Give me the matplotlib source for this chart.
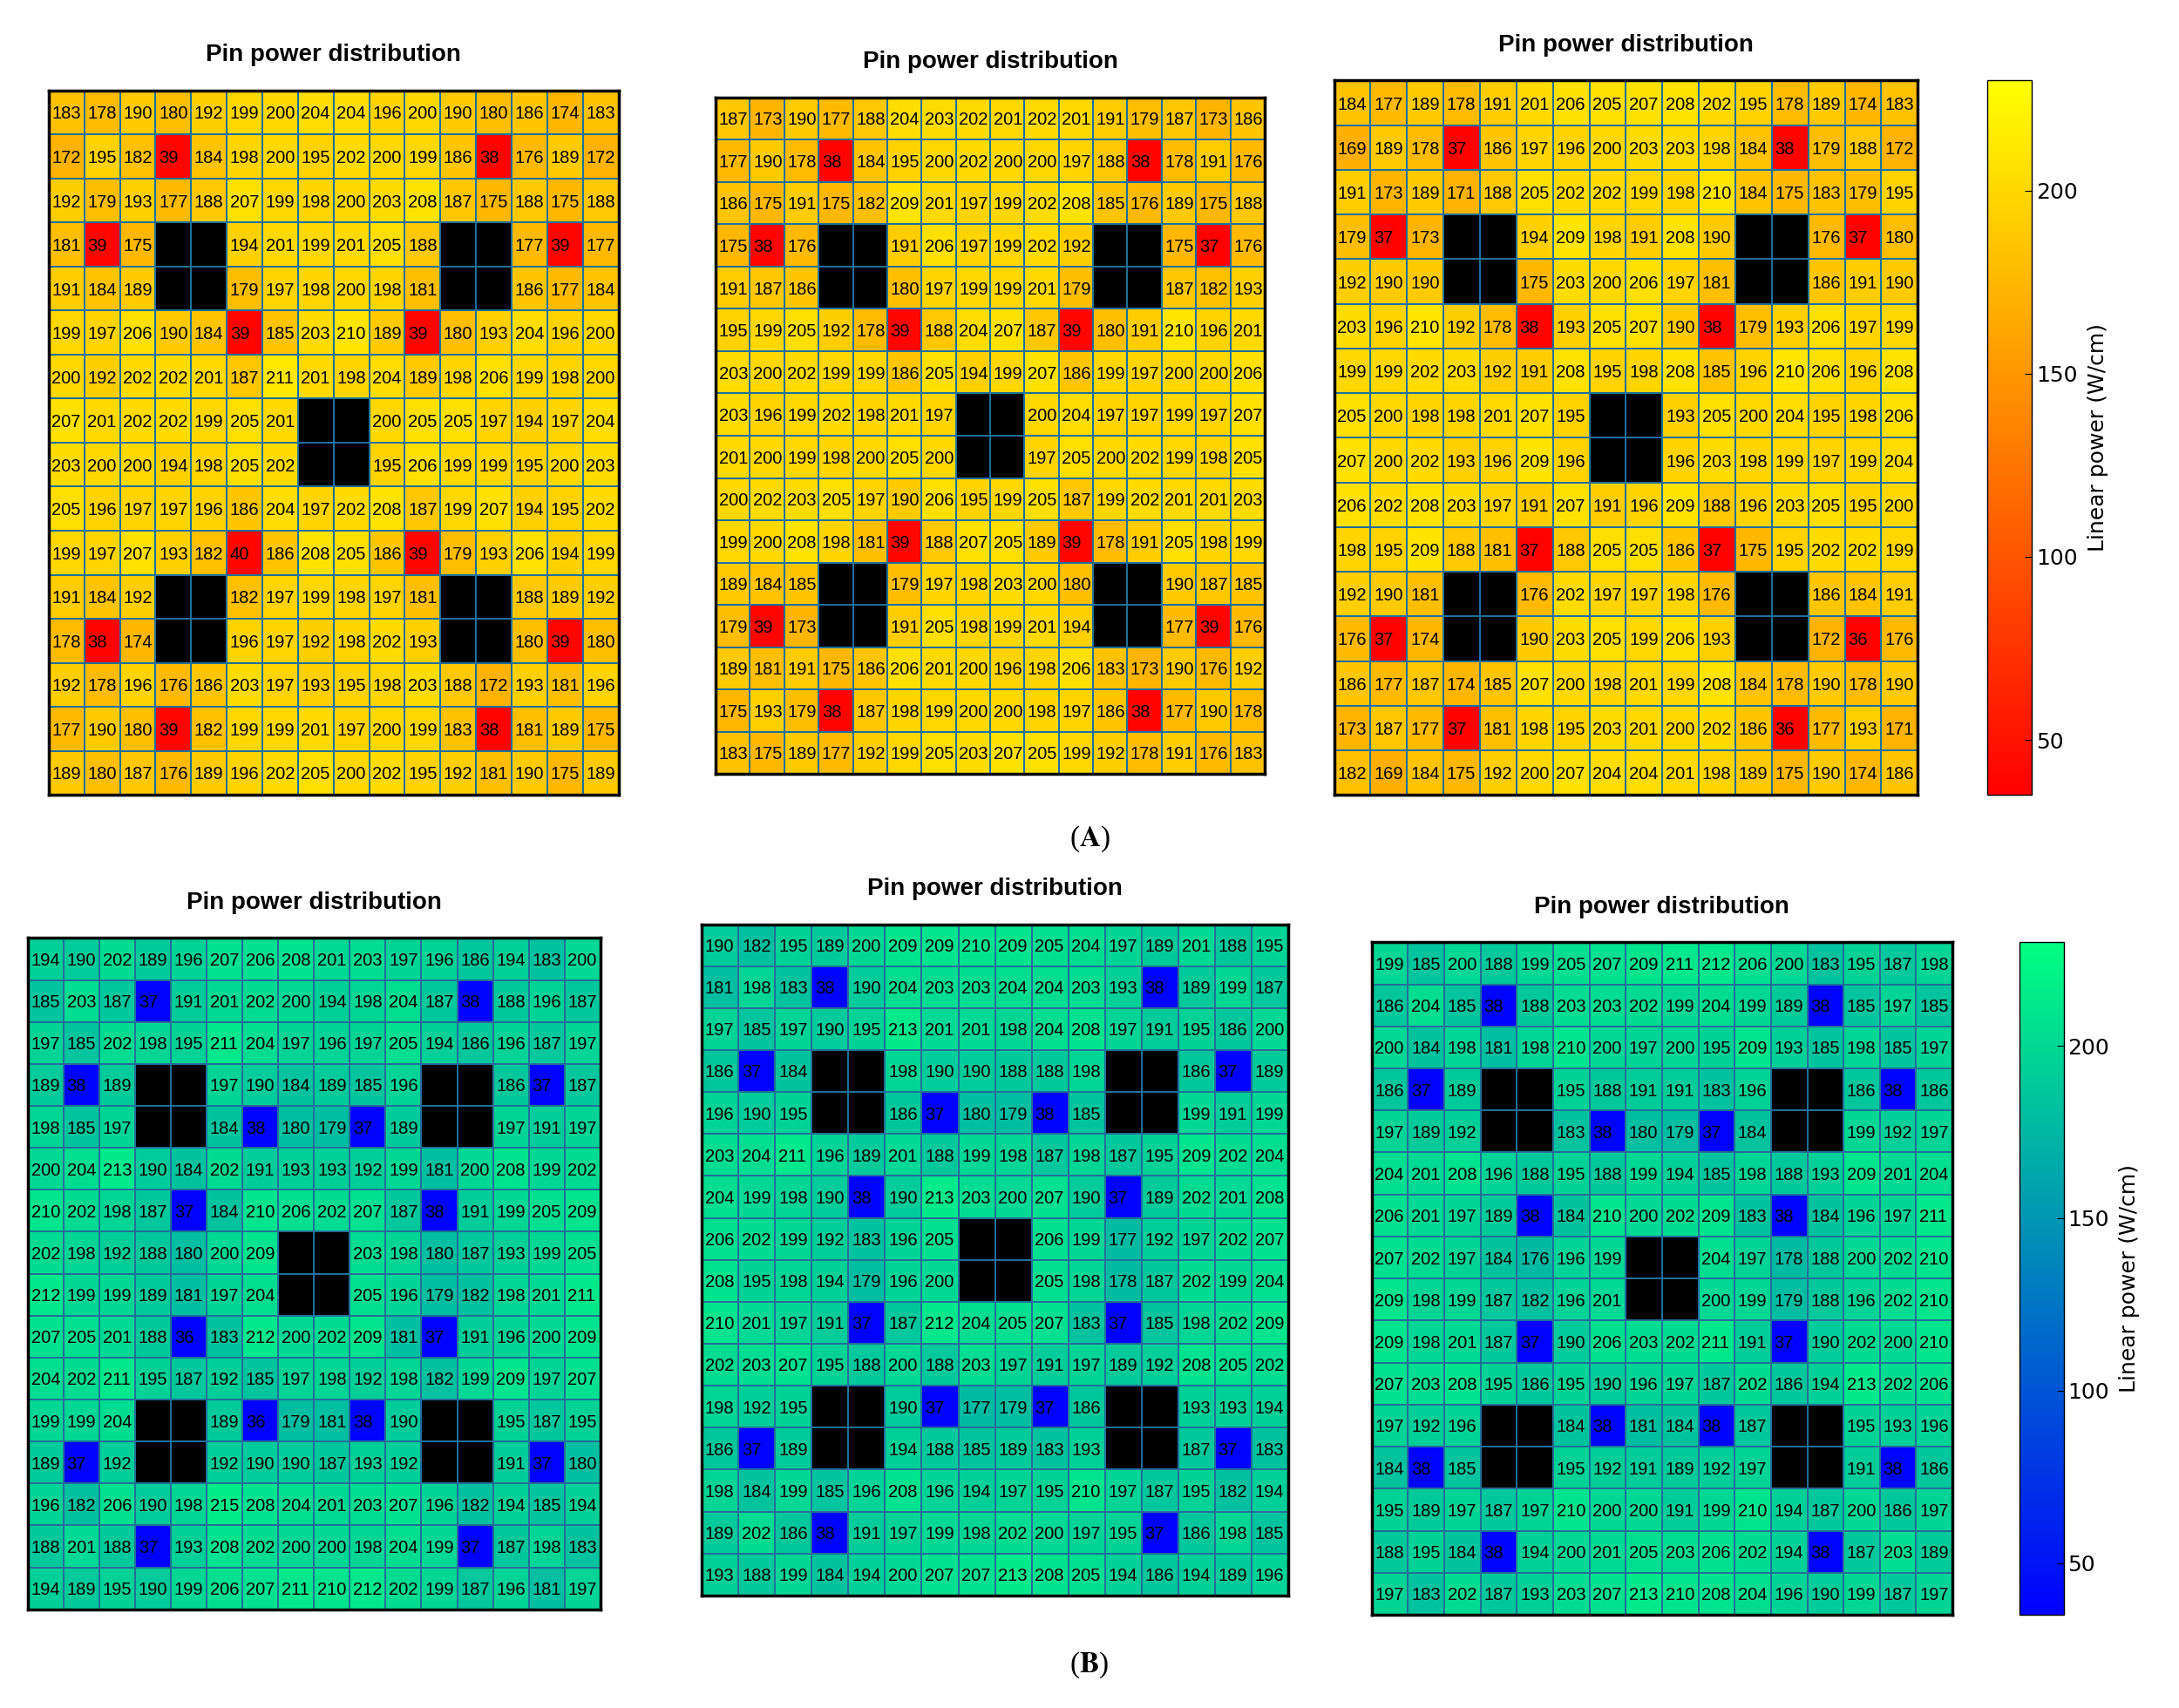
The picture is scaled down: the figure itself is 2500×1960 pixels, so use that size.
import numpy as np
import matplotlib
matplotlib.use("Agg")
import matplotlib.pyplot as plt

X = None  # guide tube / black cell

# (A) pin power maps, W/cm
A1 = [
    [183, 178, 190, 180, 192, 199, 200, 204, 204, 196, 200, 190, 180, 186, 174, 183],
    [172, 195, 182, 39, 184, 198, 200, 195, 202, 200, 199, 186, 38, 176, 189, 172],
    [192, 179, 193, 177, 188, 207, 199, 198, 200, 203, 208, 187, 175, 188, 175, 188],
    [181, 39, 175, X, X, 194, 201, 199, 201, 205, 188, X, X, 177, 39, 177],
    [191, 184, 189, X, X, 179, 197, 198, 200, 198, 181, X, X, 186, 177, 184],
    [199, 197, 206, 190, 184, 39, 185, 203, 210, 189, 39, 180, 193, 204, 196, 200],
    [200, 192, 202, 202, 201, 187, 211, 201, 198, 204, 189, 198, 206, 199, 198, 200],
    [207, 201, 202, 202, 199, 205, 201, X, X, 200, 205, 205, 197, 194, 197, 204],
    [203, 200, 200, 194, 198, 205, 202, X, X, 195, 206, 199, 199, 195, 200, 203],
    [205, 196, 197, 197, 196, 186, 204, 197, 202, 208, 187, 199, 207, 194, 195, 202],
    [199, 197, 207, 193, 182, 40, 186, 208, 205, 186, 39, 179, 193, 206, 194, 199],
    [191, 184, 192, X, X, 182, 197, 199, 198, 197, 181, X, X, 188, 189, 192],
    [178, 38, 174, X, X, 196, 197, 192, 198, 202, 193, X, X, 180, 39, 180],
    [192, 178, 196, 176, 186, 203, 197, 193, 195, 198, 203, 188, 172, 193, 181, 196],
    [177, 190, 180, 39, 182, 199, 199, 201, 197, 200, 199, 183, 38, 181, 189, 175],
    [189, 180, 187, 176, 189, 196, 202, 205, 200, 202, 195, 192, 181, 190, 175, 189],
]

A2 = [
    [187, 173, 190, 177, 188, 204, 203, 202, 201, 202, 201, 191, 179, 187, 173, 186],
    [177, 190, 178, 38, 184, 195, 200, 202, 200, 200, 197, 188, 38, 178, 191, 176],
    [186, 175, 191, 175, 182, 209, 201, 197, 199, 202, 208, 185, 176, 189, 175, 188],
    [175, 38, 176, X, X, 191, 206, 197, 199, 202, 192, X, X, 175, 37, 176],
    [191, 187, 186, X, X, 180, 197, 199, 199, 201, 179, X, X, 187, 182, 193],
    [195, 199, 205, 192, 178, 39, 188, 204, 207, 187, 39, 180, 191, 210, 196, 201],
    [203, 200, 202, 199, 199, 186, 205, 194, 199, 207, 186, 199, 197, 200, 200, 206],
    [203, 196, 199, 202, 198, 201, 197, X, X, 200, 204, 197, 197, 199, 197, 207],
    [201, 200, 199, 198, 200, 205, 200, X, X, 197, 205, 200, 202, 199, 198, 205],
    [200, 202, 203, 205, 197, 190, 206, 195, 199, 205, 187, 199, 202, 201, 201, 203],
    [199, 200, 208, 198, 181, 39, 188, 207, 205, 189, 39, 178, 191, 205, 198, 199],
    [189, 184, 185, X, X, 179, 197, 198, 203, 200, 180, X, X, 190, 187, 185],
    [179, 39, 173, X, X, 191, 205, 198, 199, 201, 194, X, X, 177, 39, 176],
    [189, 181, 191, 175, 186, 206, 201, 200, 196, 198, 206, 183, 173, 190, 176, 192],
    [175, 193, 179, 38, 187, 198, 199, 200, 200, 198, 197, 186, 38, 177, 190, 178],
    [183, 175, 189, 177, 192, 199, 205, 203, 207, 205, 199, 192, 178, 191, 176, 183],
]

A3 = [
    [184, 177, 189, 178, 191, 201, 206, 205, 207, 208, 202, 195, 178, 189, 174, 183],
    [169, 189, 178, 37, 186, 197, 196, 200, 203, 203, 198, 184, 38, 179, 188, 172],
    [191, 173, 189, 171, 188, 205, 202, 202, 199, 198, 210, 184, 175, 183, 179, 195],
    [179, 37, 173, X, X, 194, 209, 198, 191, 208, 190, X, X, 176, 37, 180],
    [192, 190, 190, X, X, 175, 203, 200, 206, 197, 181, X, X, 186, 191, 190],
    [203, 196, 210, 192, 178, 38, 193, 205, 207, 190, 38, 179, 193, 206, 197, 199],
    [199, 199, 202, 203, 192, 191, 208, 195, 198, 208, 185, 196, 210, 206, 196, 208],
    [205, 200, 198, 198, 201, 207, 195, X, X, 193, 205, 200, 204, 195, 198, 206],
    [207, 200, 202, 193, 196, 209, 196, X, X, 196, 203, 198, 199, 197, 199, 204],
    [206, 202, 208, 203, 197, 191, 207, 191, 196, 209, 188, 196, 203, 205, 195, 200],
    [198, 195, 209, 188, 181, 37, 188, 205, 205, 186, 37, 175, 195, 202, 202, 199],
    [192, 190, 181, X, X, 176, 202, 197, 197, 198, 176, X, X, 186, 184, 191],
    [176, 37, 174, X, X, 190, 203, 205, 199, 206, 193, X, X, 172, 36, 176],
    [186, 177, 187, 174, 185, 207, 200, 198, 201, 199, 208, 184, 178, 190, 178, 190],
    [173, 187, 177, 37, 181, 198, 195, 203, 201, 200, 202, 186, 36, 177, 193, 171],
    [182, 169, 184, 175, 192, 200, 207, 204, 204, 201, 198, 189, 175, 190, 174, 186],
]

# (B) pin power maps, W/cm
B1 = [
    [194, 190, 202, 189, 196, 207, 206, 208, 201, 203, 197, 196, 186, 194, 183, 200],
    [185, 203, 187, 37, 191, 201, 202, 200, 194, 198, 204, 187, 38, 188, 196, 187],
    [197, 185, 202, 198, 195, 211, 204, 197, 196, 197, 205, 194, 186, 196, 187, 197],
    [189, 38, 189, X, X, 197, 190, 184, 189, 185, 196, X, X, 186, 37, 187],
    [198, 185, 197, X, X, 184, 38, 180, 179, 37, 189, X, X, 197, 191, 197],
    [200, 204, 213, 190, 184, 202, 191, 193, 193, 192, 199, 181, 200, 208, 199, 202],
    [210, 202, 198, 187, 37, 184, 210, 206, 202, 207, 187, 38, 191, 199, 205, 209],
    [202, 198, 192, 188, 180, 200, 209, X, X, 203, 198, 180, 187, 193, 199, 205],
    [212, 199, 199, 189, 181, 197, 204, X, X, 205, 196, 179, 182, 198, 201, 211],
    [207, 205, 201, 188, 36, 183, 212, 200, 202, 209, 181, 37, 191, 196, 200, 209],
    [204, 202, 211, 195, 187, 192, 185, 197, 198, 192, 198, 182, 199, 209, 197, 207],
    [199, 199, 204, X, X, 189, 36, 179, 181, 38, 190, X, X, 195, 187, 195],
    [189, 37, 192, X, X, 192, 190, 190, 187, 193, 192, X, X, 191, 37, 180],
    [196, 182, 206, 190, 198, 215, 208, 204, 201, 203, 207, 196, 182, 194, 185, 194],
    [188, 201, 188, 37, 193, 208, 202, 200, 200, 198, 204, 199, 37, 187, 198, 183],
    [194, 189, 195, 190, 199, 206, 207, 211, 210, 212, 202, 199, 187, 196, 181, 197],
]

B2 = [
    [190, 182, 195, 189, 200, 209, 209, 210, 209, 205, 204, 197, 189, 201, 188, 195],
    [181, 198, 183, 38, 190, 204, 203, 203, 204, 204, 203, 193, 38, 189, 199, 187],
    [197, 185, 197, 190, 195, 213, 201, 201, 198, 204, 208, 197, 191, 195, 186, 200],
    [186, 37, 184, X, X, 198, 190, 190, 188, 188, 198, X, X, 186, 37, 189],
    [196, 190, 195, X, X, 186, 37, 180, 179, 38, 185, X, X, 199, 191, 199],
    [203, 204, 211, 196, 189, 201, 188, 199, 198, 187, 198, 187, 195, 209, 202, 204],
    [204, 199, 198, 190, 38, 190, 213, 203, 200, 207, 190, 37, 189, 202, 201, 208],
    [206, 202, 199, 192, 183, 196, 205, X, X, 206, 199, 177, 192, 197, 202, 207],
    [208, 195, 198, 194, 179, 196, 200, X, X, 205, 198, 178, 187, 202, 199, 204],
    [210, 201, 197, 191, 37, 187, 212, 204, 205, 207, 183, 37, 185, 198, 202, 209],
    [202, 203, 207, 195, 188, 200, 188, 203, 197, 191, 197, 189, 192, 208, 205, 202],
    [198, 192, 195, X, X, 190, 37, 177, 179, 37, 186, X, X, 193, 193, 194],
    [186, 37, 189, X, X, 194, 188, 185, 189, 183, 193, X, X, 187, 37, 183],
    [198, 184, 199, 185, 196, 208, 196, 194, 197, 195, 210, 197, 187, 195, 182, 194],
    [189, 202, 186, 38, 191, 197, 199, 198, 202, 200, 197, 195, 37, 186, 198, 185],
    [193, 188, 199, 184, 194, 200, 207, 207, 213, 208, 205, 194, 186, 194, 189, 196],
]

B3 = [
    [199, 185, 200, 188, 199, 205, 207, 209, 211, 212, 206, 200, 183, 195, 187, 198],
    [186, 204, 185, 38, 188, 203, 203, 202, 199, 204, 199, 189, 38, 185, 197, 185],
    [200, 184, 198, 181, 198, 210, 200, 197, 200, 195, 209, 193, 185, 198, 185, 197],
    [186, 37, 189, X, X, 195, 188, 191, 191, 183, 196, X, X, 186, 38, 186],
    [197, 189, 192, X, X, 183, 38, 180, 179, 37, 184, X, X, 199, 192, 197],
    [204, 201, 208, 196, 188, 195, 188, 199, 194, 185, 198, 188, 193, 209, 201, 204],
    [206, 201, 197, 189, 38, 184, 210, 200, 202, 209, 183, 38, 184, 196, 197, 211],
    [207, 202, 197, 184, 176, 196, 199, X, X, 204, 197, 178, 188, 200, 202, 210],
    [209, 198, 199, 187, 182, 196, 201, X, X, 200, 199, 179, 188, 196, 202, 210],
    [209, 198, 201, 187, 37, 190, 206, 203, 202, 211, 191, 37, 190, 202, 200, 210],
    [207, 203, 208, 195, 186, 195, 190, 196, 197, 187, 202, 186, 194, 213, 202, 206],
    [197, 192, 196, X, X, 184, 38, 181, 184, 38, 187, X, X, 195, 193, 196],
    [184, 38, 185, X, X, 195, 192, 191, 189, 192, 197, X, X, 191, 38, 186],
    [195, 189, 197, 187, 197, 210, 200, 200, 191, 199, 210, 194, 187, 200, 186, 197],
    [188, 195, 184, 38, 194, 200, 201, 205, 203, 206, 202, 194, 38, 187, 203, 189],
    [197, 183, 202, 187, 193, 203, 207, 213, 210, 208, 204, 196, 190, 199, 187, 197],
]

title = "Pin power distribution"
cbar_label = "Linear power (W/cm)"
cbar_ticks = [50, 100, 150, 200]
vmin, vmax = 35, 230

num_font = ["Liberation Sans", "DejaVu Sans"]


def draw_panel(ax, grid, cmap):
	data = np.array(grid, dtype=float)
	cm = plt.get_cmap(cmap).with_extremes(bad="black")
	ax.set_facecolor("black")
	mesh = ax.pcolormesh(np.ma.masked_invalid(data), cmap=cm, vmin=vmin, vmax=vmax,
	                     edgecolors="#1f6f98", linewidth=1.2)
	n_r, n_c = data.shape
	for i in range(n_r):
		for j in range(n_c):
			if np.isnan(data[i, j]):
				continue
			ax.text(j + 0.09, i + 0.54, "%d" % data[i, j], ha="left", va="center",
			        fontsize=14.5, family=num_font, color="black")
	ax.set_xlim(0, n_c)
	ax.set_ylim(n_r, 0)
	ax.set_xticks([])
	ax.set_yticks([])
	for s in ax.spines.values():
		s.set_linewidth(2.5)
		s.set_color("black")
	ax.set_title(title, fontsize=20, fontweight="bold", pad=24,
	             family=["Liberation Sans", "DejaVu Sans"])
	return mesh


fig = plt.figure(figsize=(25, 19.6), dpi=100)


def frac(l, r, t, b):
	# shrunk-image pixel box -> figure fraction
	return [l / 1568, 1 - b / 1229, (r - l) / 1568, (b - t) / 1229]


# top row (A)
ax = fig.add_axes(frac(35, 445, 65, 572))
draw_panel(ax, A1, "autumn")
ax = fig.add_axes(frac(515, 910, 70, 557))
draw_panel(ax, A2, "autumn")
ax = fig.add_axes(frac(960, 1380, 58, 572))
mesh_a = draw_panel(ax, A3, "autumn")

# bottom row (B)
ax = fig.add_axes(frac(20, 432, 675, 1158))
draw_panel(ax, B1, "winter")
ax = fig.add_axes(frac(505, 927, 665, 1148))
draw_panel(ax, B2, "winter")
ax = fig.add_axes(frac(987, 1405, 678, 1162))
mesh_b = draw_panel(ax, B3, "winter")

# colorbars
for mesh, box in [(mesh_a, frac(1430, 1462, 58, 572)), (mesh_b, frac(1453, 1485, 678, 1162))] :
	cax = fig.add_axes(box)
	cb = fig.colorbar(mesh, cax=cax, ticks=cbar_ticks)
	cb.ax.tick_params(labelsize=18, direction="in", length=6)
	cb.set_label(cbar_label, fontsize=18, labelpad=8)
	cb.outline.set_linewidth(1)

plt.rcParams["mathtext.fontset"] = "stix"
fig.text(0.5, 1 - 604 / 1229, r"($\mathbf{A}$)", ha="center", va="center",
         fontsize=24, family="Liberation Serif")
fig.text(0.5, 1 - 1198 / 1229, r"($\mathbf{B}$)", ha="center", va="center",
         fontsize=24, family="Liberation Serif")

plt.savefig("out.png", dpi=100)
